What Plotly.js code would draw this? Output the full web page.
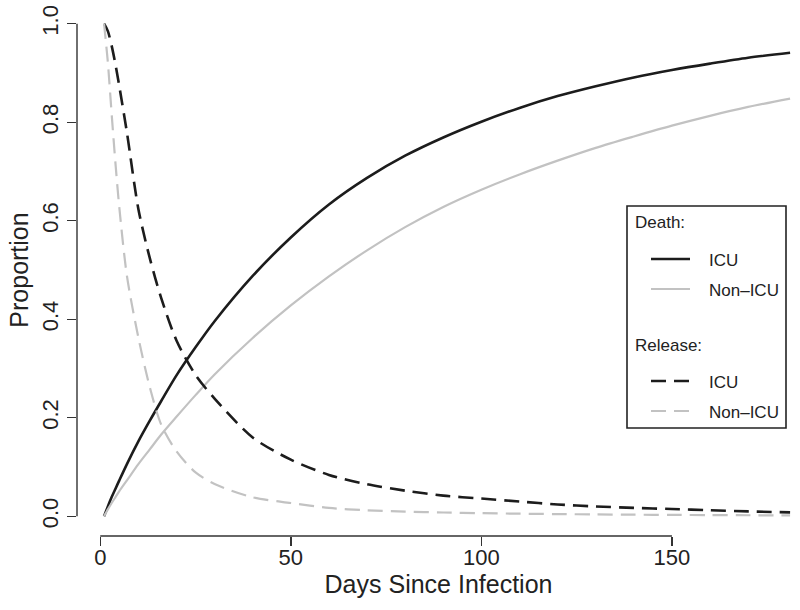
<!DOCTYPE html>
<html>
<head>
<meta charset="utf-8">
<script src="https://cdn.plot.ly/plotly-3.0.1.min.js"></script>
<style>html,body{margin:0;padding:0;background:#fff;}#chart{width:800px;height:610px;}</style>
</head>
<body>
<div id="chart"></div>
<script>
// ---- data ----
const days = [1, 2, 3, 4, 5, 7, 10, 13, 16, 20, 25, 30, 40, 50, 60, 70, 80, 90, 100, 110, 120, 130, 140, 150, 160, 170, 181];
const deathICU = [0, 0.020, 0.039, 0.056, 0.073, 0.106, 0.152, 0.194, 0.234, 0.286, 0.343, 0.396, 0.488, 0.566, 0.633, 0.687, 0.732, 0.769, 0.801, 0.829, 0.853, 0.873, 0.891, 0.906, 0.919, 0.931, 0.941];
const deathNonICU = [0, 0.014, 0.027, 0.039, 0.051, 0.073, 0.106, 0.136, 0.166, 0.202, 0.246, 0.288, 0.362, 0.428, 0.487, 0.540, 0.587, 0.628, 0.663, 0.694, 0.722, 0.748, 0.771, 0.793, 0.813, 0.831, 0.848];
const releaseICU = [1.0, 0.985, 0.955, 0.917, 0.873, 0.779, 0.624, 0.524, 0.443, 0.357, 0.287, 0.239, 0.160, 0.115, 0.084, 0.065, 0.052, 0.042, 0.036, 0.030, 0.024, 0.020, 0.017, 0.0148, 0.0122, 0.0099, 0.008];
const releaseNonICU = [1.0, 0.921, 0.816, 0.716, 0.627, 0.488, 0.363, 0.262, 0.186, 0.132, 0.089, 0.0656, 0.0385, 0.027, 0.017, 0.0122, 0.0094, 0.0077, 0.0064, 0.0053, 0.0045, 0.0038, 0.0033, 0.0028, 0.0024, 0.0021, 0.0018];
const xTicks = [0, 50, 100, 150];
const yTicks = [0, 0.2, 0.4, 0.6, 0.8, 1.0];
const xTitle = 'Days Since Infection';
const yTitle = 'Proportion';
const groupTitles = ['Death:', 'Release:'];
const groupLabels = ['ICU', 'Non\u2013ICU'];

// ---- styles ----
const FONT = 'Liberation Sans, Arial, Helvetica, sans-serif';
const TXT = '#222222';
const AX = '#333333';
const BLACK = '#1c1c1c';
const GRAY = '#c2c2c2';
const DASH = '15px,8px';

const styles = [
  {color: BLACK, width: 2.6, dash: 'solid'},
  {color: GRAY, width: 2.2, dash: 'solid'},
  {color: BLACK, width: 2.6, dash: DASH},
  {color: GRAY, width: 2.2, dash: DASH}
];
const series = [deathICU, deathNonICU, releaseICU, releaseNonICU];
const names = ['Death: ICU', 'Death: Non\u2013ICU', 'Release: ICU', 'Release: Non\u2013ICU'];

const traces = series.map((ys, i) => ({
  x: days, y: ys, type: 'scatter', mode: 'lines', name: names[i],
  line: {color: styles[i].color, width: styles[i].width, dash: styles[i].dash, shape: 'spline', smoothing: 0.8},
  hoverinfo: 'skip', showlegend: false
}));

// plot area geometry (pixels)
const W = 800, H = 610;
const M = {l: 77, r: 0, t: 4, b: 74};
const pw = W - M.l - M.r, ph = H - M.t - M.b;
const px2paperX = p => (p - M.l) / pw;
const py2paperY = p => (H - M.b - p) / ph;

// manual R-style legend box
const lg = {x0: 627, x1: 786, y0: 206, y1: 428, textX: 633, lineX0: 651, lineX1: 690, labelX: 707,
  rows: [223, 259, 289, 346, 381, 411]};
const shapes = [];
const annotations = [];
// axis lines spanning first to last tick (R style)
shapes.push({type: 'line', xref: 'x', yref: 'paper', x0: xTicks[0], x1: xTicks[xTicks.length - 1], y0: 0, y1: 0,
  line: {color: AX, width: 1.4}});
shapes.push({type: 'line', xref: 'paper', yref: 'y', x0: 0, x1: 0, y0: yTicks[0], y1: yTicks[yTicks.length - 1],
  line: {color: AX, width: 1.4}});
// legend border
shapes.push({type: 'rect', xref: 'paper', yref: 'paper', x0: px2paperX(lg.x0), x1: px2paperX(lg.x1),
  y0: py2paperY(lg.y1), y1: py2paperY(lg.y0), line: {color: '#222', width: 1.6}, fillcolor: 'rgba(255,255,255,1)', layer: 'above'});
const rowOf = [[0, 1, 2], [3, 4, 5]];
groupTitles.forEach((gt, g) => {
  annotations.push({xref: 'paper', yref: 'paper', x: px2paperX(lg.textX), y: py2paperY(lg.rows[rowOf[g][0]]),
    text: gt, showarrow: false, xanchor: 'left', yanchor: 'middle', font: {family: FONT, size: 17, color: TXT}});
  groupLabels.forEach((lab, k) => {
    const s = styles[g * 2 + k];
    const ry = lg.rows[rowOf[g][k + 1]];
    shapes.push({type: 'line', xref: 'paper', yref: 'paper', x0: px2paperX(lg.lineX0), x1: px2paperX(lg.lineX1),
      y0: py2paperY(ry), y1: py2paperY(ry), line: {color: s.color, width: s.width, dash: s.dash}, layer: 'above'});
    annotations.push({xref: 'paper', yref: 'paper', x: px2paperX(lg.labelX), y: py2paperY(ry + 1),
      text: lab, showarrow: false, xanchor: 'left', yanchor: 'middle', font: {family: FONT, size: 17, color: TXT}});
  });
});

const layout = {
  width: W, height: H,
  margin: M,
  paper_bgcolor: '#ffffff', plot_bgcolor: '#ffffff',
  font: {family: FONT, color: TXT},
  showlegend: false,
  xaxis: {
    range: [-6.1, 183.6], showgrid: false, zeroline: false, showline: false,
    tickmode: 'array', tickvals: xTicks, ticktext: xTicks.map(String),
    ticks: 'outside', ticklen: 9, tickwidth: 1.4, tickcolor: AX,
    ticklabelstandoff: -7,
    tickfont: {family: FONT, size: 22, color: TXT},
    title: {text: xTitle, font: {family: FONT, size: 25, color: TXT}, standoff: 6},
    automargin: false
  },
  yaxis: {
    range: [-0.04, 1.04], showgrid: false, zeroline: false, showline: false,
    tickmode: 'array', tickvals: yTicks, ticktext: yTicks.map(v => v.toFixed(1)),
    ticks: 'outside', ticklen: 9, tickwidth: 1.4, tickcolor: AX, tickangle: -90,
    tickfont: {family: FONT, size: 22, color: TXT},
    title: {text: yTitle, font: {family: FONT, size: 25, color: TXT}, standoff: 2},
    automargin: false
  },
  shapes: shapes,
  annotations: annotations
};

Plotly.newPlot('chart', traces, layout, {displayModeBar: false, staticPlot: true});
</script>
</body>
</html>
